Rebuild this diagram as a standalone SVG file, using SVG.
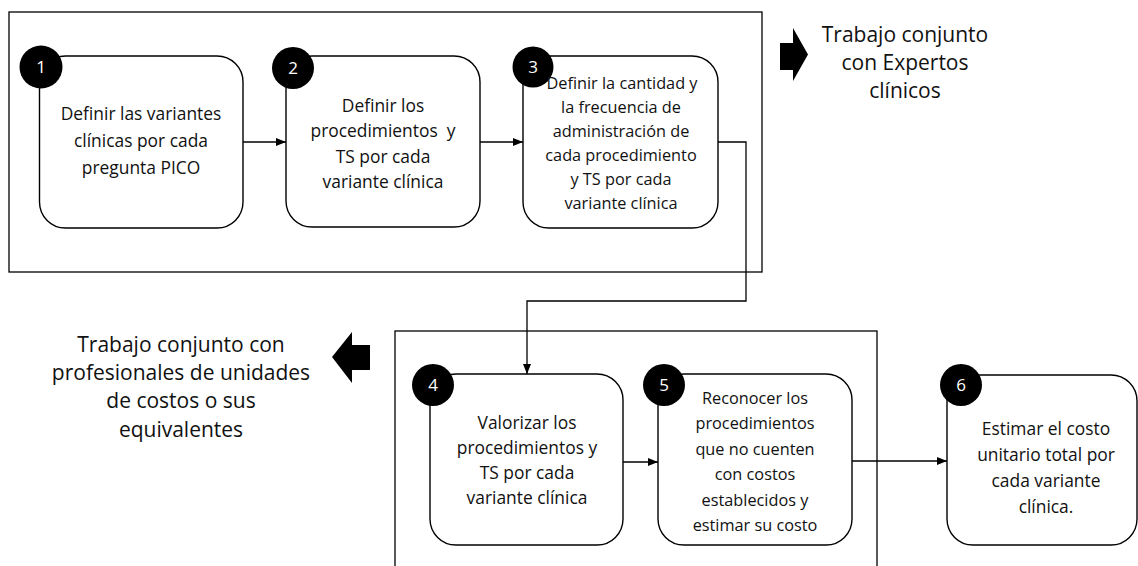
<svg xmlns="http://www.w3.org/2000/svg" width="1138" height="566" viewBox="0 0 1138 566">
<style>
.frame{fill:none;stroke:#000;stroke-width:1.3}
.box{fill:#fff;stroke:#000;stroke-width:1.4}
.badge{fill:#000}
.num{font-family:"Open Sans","Liberation Sans",sans-serif;font-size:17px;fill:#fff;text-anchor:middle}
.t{font-family:"Open Sans","Liberation Sans",sans-serif;font-size:17.4px;fill:#111;text-anchor:middle}
.t2{font-family:"Open Sans","Liberation Sans",sans-serif;font-size:16.3px;fill:#111;text-anchor:middle}
.lab{font-family:"Open Sans","Liberation Sans",sans-serif;font-size:21px;fill:#111;text-anchor:middle}
.con{fill:none;stroke:#000;stroke-width:1.3}
</style>
<defs>
<marker id="ah" markerUnits="userSpaceOnUse" markerWidth="10" markerHeight="10" viewBox="0 0 10 10" refX="10" refY="5" orient="auto">
<path d="M0,1 L10,5 L0,9 Z" fill="#000"/>
</marker>
</defs>
<rect class="frame" x="9" y="12" width="753" height="260"/>
<rect class="frame" x="395" y="331" width="482" height="260"/>
<g id="connectors">
<line class="con" x1="243" y1="142" x2="286" y2="142" marker-end="url(#ah)"/>
<line class="con" x1="480" y1="142" x2="523" y2="142" marker-end="url(#ah)"/>
<polyline class="con" points="718,142 746,142 746,301 527,301 527,374" marker-end="url(#ah)"/>
<line class="con" x1="623" y1="462" x2="658" y2="462" marker-end="url(#ah)"/>
<line class="con" x1="852" y1="461" x2="947" y2="461" marker-end="url(#ah)"/>
</g>
<g id="node1">
<rect class="box" x="39.5" y="56" width="203.5" height="172" rx="26"/>
<circle class="badge" cx="41" cy="67" r="21.5"/>
<text class="num" x="41" y="73">1</text>
<text class="t" x="141" y="120">Definir las variantes</text>
<text class="t" x="141" y="147">clínicas por cada</text>
<text class="t" x="141" y="174">pregunta PICO</text>
</g>
<g id="node2">
<rect class="box" x="286" y="56" width="194" height="171" rx="26"/>
<circle class="badge" cx="293" cy="68" r="21"/>
<text class="num" x="293" y="74">2</text>
<text class="t" x="383" y="112">Definir los</text>
<text class="t" x="383" y="137" xml:space="preserve">procedimientos  y</text>
<text class="t" x="383" y="163">TS por cada</text>
<text class="t" x="383" y="188">variante clínica</text>
</g>
<g id="node3">
<rect class="box" x="523" y="56" width="195" height="172" rx="26"/>
<circle class="badge" cx="533" cy="67" r="20.5"/>
<text class="num" x="533" y="73">3</text>
<text class="t2" x="622" y="89">Definir la cantidad y</text>
<text class="t2" x="621" y="113">la frecuencia de</text>
<text class="t2" x="621" y="137">administración de</text>
<text class="t2" x="621" y="161">cada procedimiento</text>
<text class="t2" x="621" y="185">y TS por cada</text>
<text class="t2" x="621" y="209">variante clínica</text>
</g>
<g id="node4">
<rect class="box" x="430" y="374" width="193" height="171" rx="26"/>
<circle class="badge" cx="433" cy="385" r="21"/>
<text class="num" x="433" y="391">4</text>
<text class="t" x="527" y="429">Valorizar los</text>
<text class="t" x="527" y="454">procedimientos y</text>
<text class="t" x="527" y="479">TS por cada</text>
<text class="t" x="527" y="504">variante clínica</text>
</g>
<g id="node5">
<rect class="box" x="658" y="374" width="194" height="171" rx="26"/>
<circle class="badge" cx="664" cy="385" r="21"/>
<text class="num" x="664" y="391">5</text>
<text class="t2" x="755" y="404">Reconocer los</text>
<text class="t2" x="755" y="429">procedimientos</text>
<text class="t2" x="755" y="455">que no cuenten</text>
<text class="t2" x="755" y="480">con costos</text>
<text class="t2" x="755" y="506">establecidos y</text>
<text class="t2" x="755" y="531">estimar su costo</text>
</g>
<g id="node6">
<rect class="box" x="947" y="375" width="190" height="170" rx="26"/>
<circle class="badge" cx="961" cy="385" r="21"/>
<text class="num" x="961" y="391">6</text>
<text class="t" x="1046" y="435">Estimar el costo</text>
<text class="t" x="1046" y="461">unitario total por</text>
<text class="t" x="1046" y="487">cada variante</text>
<text class="t" x="1046" y="513">clínica.</text>
</g>
<g id="label-expertos">
<polygon points="780,43 793,43 793,28 808,54.5 793,81 793,70 780,70" fill="#000"/>
<text class="lab" x="905" y="42">Trabajo conjunto</text>
<text class="lab" x="905" y="70">con Expertos</text>
<text class="lab" x="905" y="98">clínicos</text>
</g>
<g id="label-costos">
<polygon points="370,345 352,345 352,332 332,357 352,383 352,370 370,370" fill="#000"/>
<text class="lab" x="181" y="352">Trabajo conjunto con</text>
<text class="lab" x="181" y="380">profesionales de unidades</text>
<text class="lab" x="181" y="408">de costos o sus</text>
<text class="lab" x="181" y="437">equivalentes</text>
</g>
</svg>
